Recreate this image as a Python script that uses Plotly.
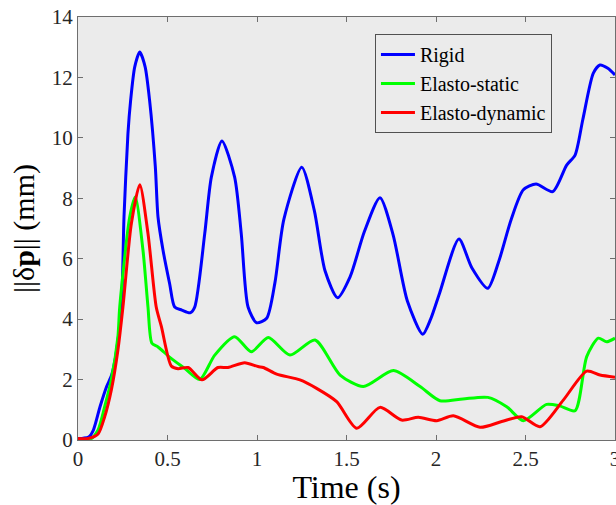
import plotly.graph_objects as go

# Rigid
t_rigid = [0.0, 0.03, 0.06, 0.086, 0.123, 0.16, 0.188, 0.216, 0.244, 0.257, 0.279, 0.294, 0.317, 0.345,
           0.375, 0.4, 0.432, 0.447, 0.475, 0.512, 0.54, 0.58, 0.626, 0.652, 0.708, 0.745, 0.804, 0.875,
           0.912, 0.95, 0.998, 1.054, 1.1, 1.15, 1.25, 1.32, 1.38, 1.45, 1.52, 1.6, 1.687, 1.76, 1.84,
           1.926, 1.97, 2.02, 2.128, 2.2, 2.289, 2.35, 2.42, 2.488, 2.559, 2.652, 2.73, 2.777, 2.82,
           2.879, 2.916, 2.96, 3.0]
rigid = [0.05, 0.06, 0.1, 0.33, 1.1, 1.77, 2.15, 2.98, 4.63, 7.38, 10.14, 11.24, 12.35, 12.84,
         12.35, 11.24, 9.04, 7.38, 6.28, 5.17, 4.4, 4.3, 4.21, 4.4, 6.83, 8.7, 9.9, 8.7,
         6.83, 4.4, 3.88, 4.03, 5.2, 7.3, 9.03, 7.6, 5.6, 4.71, 5.4, 6.9, 8.02, 6.8, 4.6,
         3.5, 4.0, 4.86, 6.65, 5.7, 5.02, 5.9, 7.3, 8.28, 8.47, 8.22, 9.1, 9.43, 10.6,
         12.14, 12.41, 12.3, 12.08]

# Elasto-static
t_static = [0.0, 0.07, 0.112, 0.149, 0.186, 0.223, 0.233, 0.289, 0.32, 0.363, 0.391, 0.413, 0.447, 0.52,
            0.596, 0.68, 0.764, 0.875, 0.968, 1.063, 1.184, 1.324, 1.464, 1.594, 1.762, 1.911, 2.022,
            2.15, 2.29, 2.395, 2.488, 2.618, 2.69, 2.777, 2.842, 2.907, 2.953, 3.0]
static = [0.0, 0.03, 0.33, 1.1, 1.99, 3.42, 4.4, 7.38, 8.04, 6.28, 4.4, 3.2, 3.08, 2.7,
          2.37, 2.0, 2.81, 3.42, 2.92, 3.39, 2.81, 3.31, 2.15, 1.77, 2.3, 1.77, 1.3,
          1.36, 1.41, 1.1, 0.64, 1.18, 1.13, 0.97, 2.76, 3.37, 3.25, 3.37]

# Elasto-dynamic
t_dynamic = [0.0, 0.056, 0.112, 0.149, 0.186, 0.223, 0.251, 0.298, 0.345, 0.391, 0.437, 0.466, 0.521, 0.559,
             0.615, 0.693, 0.782, 0.838, 0.931, 1.006, 1.035, 1.11, 1.24, 1.333, 1.445, 1.557, 1.687,
             1.808, 1.901, 2.004, 2.097, 2.246, 2.367, 2.479, 2.581, 2.711, 2.842, 2.916, 3.0]
dynamic = [0.05, 0.05, 0.2, 0.77, 1.65, 2.98, 4.4, 7.16, 8.45, 6.83, 4.4, 3.75, 2.45, 2.36,
           2.4, 1.99, 2.4, 2.4, 2.56, 2.43, 2.4, 2.18, 1.99, 1.71, 1.27, 0.39, 1.08,
           0.66, 0.75, 0.64, 0.8, 0.42, 0.61, 0.77, 0.44, 1.32, 2.28, 2.15, 2.08]

x_ticks = [0, 0.5, 1, 1.5, 2, 2.5, 3]
x_tick_labels = ["0", "0.5", "1", "1.5", "2", "2.5", "3"]
y_ticks = [0, 2, 4, 6, 8, 10, 12, 14]

FONT = "Liberation Serif, Times New Roman, serif"
BG = "rgb(235,235,235)"
AX = "rgb(110,110,110)"

fig = go.Figure()
for t, v, name, col in [(t_rigid, rigid, "Rigid", "#0000ff"),
                        (t_static, static, "Elasto-static", "#00ff00"),
                        (t_dynamic, dynamic, "Elasto-dynamic", "#ff0000")]:
    fig.add_trace(go.Scatter(x=t, y=v, mode="lines", name=name,
                             line=dict(color=col, width=3, shape="spline", smoothing=0.7)))

fig.update_layout(
    width=616, height=505,
    margin=dict(l=78, r=1, t=17, b=65, autoexpand=False),
    paper_bgcolor="white", plot_bgcolor=BG,
    font=dict(family=FONT, color="rgb(38,38,38)"),
    showlegend=True,
    legend=dict(x=0.553, y=0.96, xanchor="left", yanchor="top",
                bgcolor=BG, bordercolor="rgb(80,80,80)", borderwidth=1,
                font=dict(family=FONT, size=20, color="black"),
                tracegroupgap=0, itemwidth=34),
)
fig.update_xaxes(range=[0, 3], tickvals=x_ticks, ticktext=x_tick_labels, automargin=False,
                 ticklabeloverflow="allow",
                 showgrid=False, zeroline=False, showline=True, linecolor=AX, linewidth=1,
                 mirror="allticks", ticks="inside", ticklen=5, tickcolor=AX,
                 tickfont=dict(size=21, family=FONT, color="rgb(38,38,38)"),
                 title=dict(text="Time (s)", font=dict(size=32, family=FONT, color="black"), standoff=0))
fig.update_yaxes(range=[0, 14], tickvals=y_ticks, automargin=False,
                 showgrid=False, zeroline=False, showline=True, linecolor=AX, linewidth=1,
                 mirror="allticks", ticks="inside", ticklen=5, tickcolor=AX,
                 tickfont=dict(size=21, family=FONT, color="rgb(38,38,38)"),
                 title=dict(text="||δ<b>p</b>|| (mm)", font=dict(size=30, family=FONT, color="black"), standoff=8))

fig.write_html("out.html", config={"displayModeBar": False},
               post_script="document.body.style.margin='0';document.body.style.overflow='hidden';")
